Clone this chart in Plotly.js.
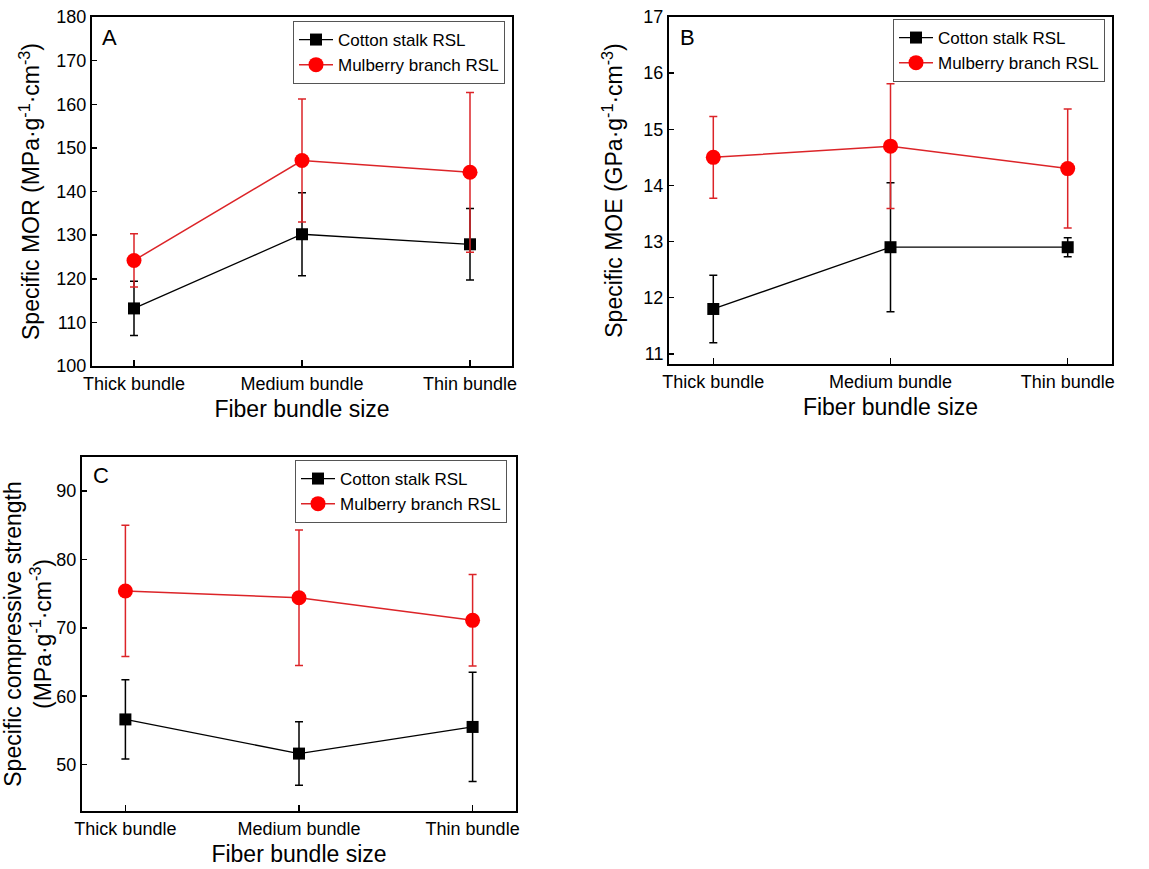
<!DOCTYPE html>
<html>
<head>
<meta charset="utf-8">
<script src="https://cdn.plot.ly/plotly-3.0.1.min.js"></script>
<style>html,body{margin:0;padding:0;background:#fff;}#chart{width:1149px;height:869px;}</style>
</head>
<body>
<div id="chart"></div>
<script>
// ---- data ----
const categories = ["Thick bundle", "Medium bundle", "Thin bundle"];
const seriesNames = ["Cotton stalk RSL", "Mulberry branch RSL"];

const morCotton = [113.2, 130.2, 127.9];
const morCottonErr = [6.2, 9.5, 8.2];
const morMulberry = [124.2, 147.1, 144.4];
const morMulberryErr = [6.1, 14.1, 18.3];

const moeCotton = [11.8, 12.9, 12.9];
const moeCottonErr = [0.6, 1.15, 0.17];
const moeMulberry = [14.5, 14.7, 14.3];
const moeMulberryErr = [0.73, 1.11, 1.06];

const csCotton = [56.6, 51.6, 55.5];
const csCottonErr = [5.8, 4.65, 8.0];
const csMulberry = [75.4, 74.4, 71.1];
const csMulberryErr = [9.6, 9.9, 6.7];

// ---- layout helpers ----
const W = 1149, H = 869;
const px = v => v / W;
const py = v => 1 - v / H;
const FONT = "Liberation Sans, Arial, sans-serif";
const BLACK = "#000000";
const RED_M = "#ff0000";
const RED_L = "#dc2428";

function pair(xa, ya, legendId, c, cErr, m, mErr) {
  const common = {x: categories, type: "scatter", mode: "lines+markers", xaxis: xa, yaxis: ya, legend: legendId, hoverinfo: "x+y"};
  return [
    Object.assign({}, common, {
      name: seriesNames[0], y: c,
      line: {color: BLACK, width: 1.3},
      marker: {symbol: "square", size: 12, color: BLACK},
      error_y: {type: "data", array: cErr, visible: true, color: BLACK, thickness: 1.5, width: 4}
    }),
    Object.assign({}, common, {
      name: seriesNames[1], y: m,
      line: {color: RED_L, width: 1.5},
      marker: {symbol: "circle", size: 15, color: RED_M},
      error_y: {type: "data", array: mErr, visible: true, color: RED_L, thickness: 1.5, width: 4}
    })
  ];
}

const data = [].concat(
  pair("x", "y", "legend", morCotton, morCottonErr, morMulberry, morMulberryErr),
  pair("x2", "y2", "legend2", moeCotton, moeCottonErr, moeMulberry, moeMulberryErr),
  pair("x3", "y3", "legend3", csCotton, csCottonErr, csMulberry, csMulberryErr)
);

function xaxis(x0, x1, anchor) {
  return {
    domain: [px(x0), px(x1)], anchor: anchor, type: "category",
    range: [-0.25, 2.25], showgrid: false, zeroline: false,
    showline: true, mirror: true, linecolor: BLACK, linewidth: 2,
    ticks: "inside", ticklen: 6, tickwidth: 1.5, tickcolor: BLACK,
    tickfont: {family: FONT, size: 18, color: BLACK},
    title: {text: "Fiber bundle size", font: {family: FONT, size: 23, color: BLACK}, standoff: 8}
  };
}
function yaxis(y0, y1, anchor, range, dtick, title, standoff) {
  return {
    domain: [py(y1), py(y0)], anchor: anchor, range: range, dtick: dtick,
    showgrid: false, zeroline: false,
    showline: true, mirror: true, linecolor: BLACK, linewidth: 2,
    ticks: "inside", ticklen: 5, tickwidth: 1.5, tickcolor: BLACK,
    tickfont: {family: FONT, size: 18, color: BLACK},
    title: {text: title, font: {family: FONT, size: 23, color: BLACK}, standoff: standoff}
  };
}
function legend(xRight, yTop) {
  return {
    x: px(xRight), xanchor: "right", y: py(yTop), yanchor: "top",
    bgcolor: "#ffffff", bordercolor: "#555555", borderwidth: 1,
    font: {family: FONT, size: 17, color: BLACK}, itemwidth: 34,
    tracegroupgap: 0
  };
}

const layout = {
  width: W, height: H,
  margin: {l: 0, r: 0, t: 0, b: 0},
  paper_bgcolor: "#ffffff", plot_bgcolor: "#ffffff",
  showlegend: true,
  xaxis: xaxis(92, 512, "y"),
  yaxis: yaxis(17, 366, "x", [100, 180], 10, "Specific MOR (MPa·g<sup>-1</sup>·cm<sup>-3</sup>)", 10),
  xaxis2: xaxis(669, 1112, "y2"),
  yaxis2: yaxis(17, 364, "x2", [10.82, 17], 1, "Specific MOE (GPa·g<sup>-1</sup>·cm<sup>-3</sup>)", 14),
  xaxis3: xaxis(82, 516, "y3"),
  yaxis3: yaxis(457, 811, "x3", [43.2, 95], 10, "Specific compressive strength<br>(MPa·g<sup>-1</sup>·cm<sup>-3</sup>)", 4),
  legend: legend(505, 21),
  legend2: legend(1105, 19),
  legend3: legend(507, 460),
  annotations: [
    {text: "A", x: px(100), y: py(23), xref: "paper", yref: "paper", xanchor: "left", yanchor: "top", showarrow: false, font: {family: FONT, size: 22, color: BLACK}},
    {text: "B", x: px(678), y: py(23), xref: "paper", yref: "paper", xanchor: "left", yanchor: "top", showarrow: false, font: {family: FONT, size: 22, color: BLACK}},
    {text: "C", x: px(91), y: py(461), xref: "paper", yref: "paper", xanchor: "left", yanchor: "top", showarrow: false, font: {family: FONT, size: 22, color: BLACK}}
  ]
};

Plotly.newPlot("chart", data, layout, {displayModeBar: false, staticPlot: true});
</script>
</body>
</html>
